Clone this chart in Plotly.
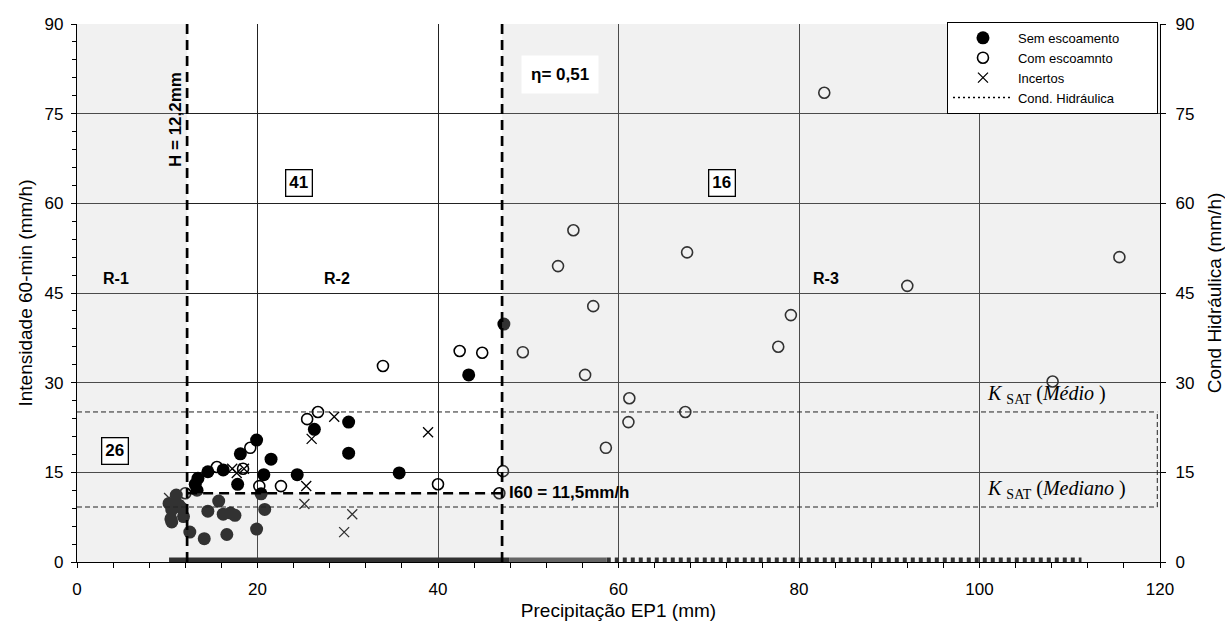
import plotly.graph_objects as go

# ---------------- data ----------------
sem_x = [19.9, 18.1, 21.5, 14.5, 13.4, 13.1, 13.3, 16.2, 17.8, 20.7, 24.4, 26.3, 30.1, 30.1, 35.7, 43.4, 47.3,
         10.2, 10.5, 10.4, 10.5, 11.0, 11.3, 11.8, 11.6, 12.5, 14.1, 16.6, 14.5, 15.7, 16.2, 17.0, 17.5, 19.9, 20.4, 20.8]
sem_y = [20.4, 18.1, 17.2, 15.1, 14.0, 13.0, 12.0, 15.4, 13.0, 14.6, 14.6, 22.2, 23.4, 18.2, 14.9, 31.3, 39.8,
         9.8, 8.7, 7.2, 6.7, 11.2, 9.5, 7.6, 9.0, 5.0, 3.9, 4.6, 8.5, 10.2, 8.0, 8.2, 7.8, 5.5, 11.4, 8.8]

com_x = [33.9, 25.5, 26.7, 19.2, 15.5, 18.4, 12.0, 20.2, 22.6, 40.0, 46.8, 47.2, 42.4, 44.9, 49.4, 57.2, 79.1,
         77.7, 56.3, 61.2, 61.1, 67.4, 58.6, 55.0, 53.3, 67.6, 92.0, 115.5, 82.8, 108.1]
com_y = [32.8, 23.9, 25.1, 19.1, 15.9, 15.6, 11.5, 12.7, 12.7, 13.0, 11.5, 15.2, 35.3, 35.0, 35.1, 42.8, 41.3,
         36.0, 31.3, 27.4, 23.4, 25.1, 19.1, 55.5, 49.5, 51.8, 46.2, 51.0, 78.5, 30.2]

inc_x = [28.5, 26.0, 25.4, 25.2, 30.5, 29.6, 17.2, 17.7, 18.5, 10.2, 38.9]
inc_y = [24.3, 20.6, 12.7, 9.7, 8.0, 5.0, 15.6, 14.9, 15.6, 10.7, 21.7]

# hydraulic-conductivity strip drawn along the secondary axis at 0 mm/h
cond_x = [10.2, 47.9, 58.7, 111.3]
cond_y = [0, 0, 0, 0]

H_lim = 12.2        # mm
eta_x = 47.1        # mm
I60 = 11.5          # mm/h
ksat_medio = 25.1
ksat_mediano = 9.2

x_ticks = [0, 20, 40, 60, 80, 100, 120]
y_ticks = [0, 15, 30, 45, 60, 75, 90]

FONT = "Liberation Sans, Arial, sans-serif"
SERIF = "Liberation Serif, Times New Roman, serif"
NB = "\u00a0"

fig = go.Figure()

# bottom strip (Cond. Hidráulica)
fig.add_trace(go.Scatter(x=cond_x[2:4], y=cond_y[2:4], yaxis="y2", mode="lines",
                         line=dict(color="black", width=9, dash="4px,4px"),
                         showlegend=False, hoverinfo="skip"))
fig.add_trace(go.Scatter(x=cond_x[1:3], y=cond_y[1:3], yaxis="y2", mode="lines",
                         line=dict(color="#444", width=9), showlegend=False, hoverinfo="skip"))
fig.add_trace(go.Scatter(x=cond_x[0:2], y=cond_y[0:2], yaxis="y2", mode="lines",
                         line=dict(color="black", width=9), showlegend=False, hoverinfo="skip"))

fig.add_trace(go.Scatter(x=sem_x, y=sem_y, mode="markers", name="Sem escoamento" + NB * 9,
                         marker=dict(symbol="circle", size=13, color="black")))
fig.add_trace(go.Scatter(x=com_x, y=com_y, mode="markers", name="Com escoamnto",
                         marker=dict(symbol="circle-open", size=11, color="black", line=dict(width=1.6))))
fig.add_trace(go.Scatter(x=inc_x, y=inc_y, mode="markers", name="Incertos",
                         marker=dict(symbol="x-thin-open", size=10, color="black", line=dict(width=1.3))))
fig.add_trace(go.Scatter(x=[None], y=[None], mode="lines", name="Cond. Hidráulica",
                         line=dict(color="black", width=1.5, dash="2px,3px")))

shapes = []
shade = "rgba(200,200,200,0.25)"
for x0, x1, y0, y1 in [(0, H_lim, 0, 90), (eta_x, 120, 0, 90), (H_lim, eta_x, 0, I60)]:
    shapes.append(dict(type="rect", xref="x", yref="y", x0=x0, x1=x1, y0=y0, y1=y1,
                       fillcolor=shade, line=dict(width=0), layer="above"))
thin = dict(color="#222", width=1, dash="5px,3px")
for yv in [ksat_medio, ksat_mediano]:
    shapes.append(dict(type="line", xref="x", yref="y", x0=0, x1=119.7, y0=yv, y1=yv, line=thin, layer="above"))
shapes.append(dict(type="line", xref="x", yref="y", x0=119.7, x1=119.7, y0=ksat_mediano, y1=ksat_medio,
                   line=thin, layer="above"))
thick = dict(color="black", width=2.7, dash="10px,6px")
shapes.append(dict(type="line", xref="x", yref="y", x0=H_lim, x1=H_lim, y0=0, y1=90, line=thick, layer="above"))
shapes.append(dict(type="line", xref="x", yref="y", x0=eta_x, x1=eta_x, y0=0, y1=90, line=thick, layer="above"))
shapes.append(dict(type="line", xref="x", yref="y", x0=H_lim, x1=eta_x, y0=I60, y1=I60, line=thick, layer="above"))

ann = []
def txt(x, y, t, size=16, bold=True, **kw):
    d = dict(x=x, y=y, xref="x", yref="y", text=("<b>%s</b>" % t if bold else t), showarrow=False,
             font=dict(family=FONT, size=size, color="black"))
    d.update(kw)
    ann.append(d)

txt(4.3, 47.5, "R-1")
txt(28.8, 47.5, "R-2")
txt(83.0, 47.5, "R-3")
box = dict(bgcolor="white", bordercolor="black", borderwidth=1.3, borderpad=3)
txt(24.6, 63.4, "41", size=17, **box)
txt(71.5, 63.4, "16", size=17, **box)
txt(4.2, 18.6, "26", size=17, **box)
txt(10.9, 74.0, "H = 12,2mm", size=17, textangle=-90)
txt(47.6, 11.7, "I60 = 11,5mm/h", size=17, xanchor="left")
txt(53.5, 81.6, "η= 0,51", size=17, bgcolor="white", borderpad=9)
ann.append(dict(x=100.6, y=28.0, xref="x", yref="y", xanchor="left", showarrow=False,
                text="<i>K</i> <sub>SAT</sub> (<i>Médio</i> )", font=dict(family=SERIF, size=20, color="black")))
ann.append(dict(x=100.6, y=12.1, xref="x", yref="y", xanchor="left", showarrow=False,
                text="<i>K</i> <sub>SAT</sub> (<i>Mediano</i> )", font=dict(family=SERIF, size=20, color="black")))

axis_common = dict(showline=True, linecolor="black", linewidth=1.3, ticks="outside", ticklen=5,
                   tickcolor="black", tickfont=dict(family=FONT, size=17, color="black"),
                   zeroline=False, mirror=False, automargin=False)
title_font = dict(family=FONT, size=19, color="black")

fig.update_layout(
    width=1225, height=634,
    margin=dict(l=77, r=65, t=24, b=72),
    paper_bgcolor="white", plot_bgcolor="white",
    showlegend=True,
    legend=dict(x=0.8033, y=1.004, xanchor="left", yanchor="top", bgcolor="white", bordercolor="black",
                borderwidth=1, font=dict(family=FONT, size=13, color="black"), tracegroupgap=0,
                itemwidth=60),
    xaxis=dict(range=[0, 120], tickvals=x_ticks, showgrid=True, gridcolor="#222", gridwidth=1,
               ticklabelstandoff=6,
               title=dict(text="Precipitação EP1 (mm)", font=title_font, standoff=6),
               minor=dict(dtick=4, ticks="outside", ticklen=5, tickcolor="black", showgrid=False),
               **axis_common),
    yaxis=dict(range=[0, 90], tickvals=y_ticks, showgrid=True, gridcolor="#222", gridwidth=1,
               ticklabelstandoff=4,
               title=dict(text="Intensidade 60-min (mm/h)", font=title_font, standoff=6),
               minor=dict(dtick=3, ticks="outside", ticklen=4, tickcolor="black", showgrid=False),
               **axis_common),
    yaxis2=dict(range=[0, 90], tickvals=y_ticks, overlaying="y", side="right", showgrid=False,
                ticklabelstandoff=6,
                title=dict(text="Cond Hidráulica (mm/h)", font=title_font, standoff=14),
                **axis_common),
    shapes=shapes, annotations=ann,
)

fig.write_html("out.html")
